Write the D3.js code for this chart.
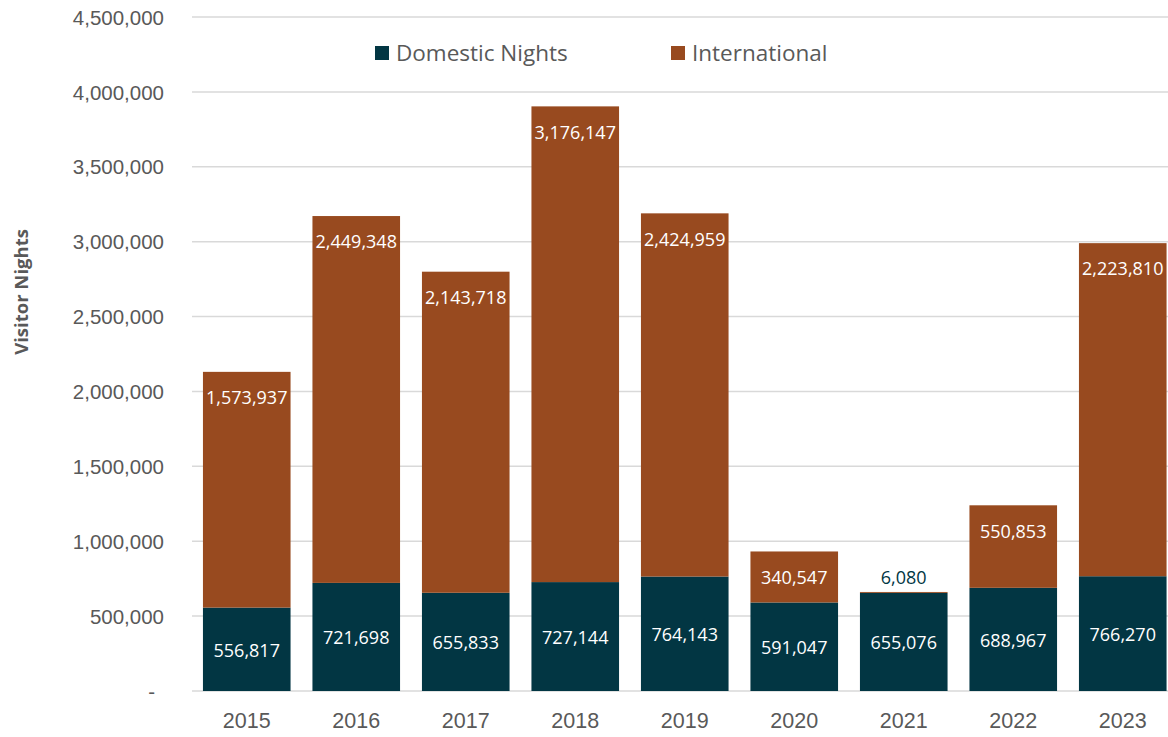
<!DOCTYPE html>
<html>
<head>
<meta charset="utf-8">
<script src="https://cdn.jsdelivr.net/npm/d3@7"></script>
<style>
  body { margin: 0; background: #fff; }
  svg { display: block; font-family: "Open Sans", "Noto Sans", sans-serif; }
</style>
</head>
<body>
<script>
let years = ['2015', '2016', '2017', '2018', '2019', '2020', '2021', '2022', '2023'];
let domestic = [556817, 721698, 655833, 727144, 764143, 591047, 655076, 688967, 766270];
let international = [1573937, 2449348, 2143718, 3176147, 2424959, 340547, 6080, 550853, 2223810];
let yTicks = [0, 500000, 1000000, 1500000, 2000000, 2500000, 3000000, 3500000, 4000000, 4500000];
let seriesNames = ['Domestic Nights', 'International'];
let colors = ['#023643', '#984a1f'];

let width = 1168;
let height = 737;
let textColor = '#595959';

let svg = d3.select('body')
            .append('svg')
            .attr('width', width)
            .attr('height', height)

let xScale = d3.scaleBand()
                .domain(years)
                .range([192, 1177.5])
                .paddingInner(0.2)
                .paddingOuter(0.1)

let yScale = d3.scaleLinear()
                .domain([0, 4500000])
                .range([691, 17])

// gridlines
svg.append('g')
    .selectAll('line')
    .data(yTicks)
    .enter()
    .append('line')
    .attr('x1', 192)
    .attr('x2', width)
    .attr('y1', d => yScale(d))
    .attr('y2', d => yScale(d))
    .attr('stroke', '#d9d9d9')
    .attr('stroke-width', 1.5)

// y axis labels
let fmt = d3.format(',');
let yAxis = d3.axisLeft(yScale)
                .tickValues(yTicks)
                .tickSize(0)
                .tickPadding(0)
                .tickFormat(d => d === 0 ? '-' : fmt(d));
let yg = svg.append('g')
    .attr('transform', 'translate(164,0)')
    .call(yAxis)
yg.select('.domain').remove();
yg.selectAll('text')
    .attr('fill', textColor)
    .style('font-size', '20.5px')
    .attr('dy', '0.35em')
yg.selectAll('text').filter(d => d === 0).attr('dx', -9)

// x axis labels
let xAxis = d3.axisBottom(xScale).tickSize(0).tickPadding(0);
let xg = svg.append('g')
    .attr('transform', 'translate(0,720)')
    .call(xAxis)
xg.select('.domain').remove();
xg.selectAll('text')
    .attr('fill', textColor)
    .style('font-size', '21.5px')
    .attr('dy', '0.35em')

// stacked bars
let rows = years.map((y, i) => ({ year: y, dom: domestic[i], intl: international[i] }));

svg.selectAll('.dom')
    .data(rows)
    .enter()
    .append('rect')
    .attr('class', 'dom')
    .attr('x', d => xScale(d.year))
    .attr('width', xScale.bandwidth())
    .attr('y', d => yScale(d.dom))
    .attr('height', d => yScale(0) - yScale(d.dom))
    .attr('fill', colors[0])

svg.selectAll('.intl')
    .data(rows)
    .enter()
    .append('rect')
    .attr('class', 'intl')
    .attr('x', d => xScale(d.year))
    .attr('width', xScale.bandwidth())
    .attr('y', d => yScale(d.dom + d.intl))
    .attr('height', d => yScale(d.dom) - yScale(d.dom + d.intl))
    .attr('fill', colors[1])

// data labels
svg.selectAll('.domLabel')
    .data(rows)
    .enter()
    .append('text')
    .attr('x', d => xScale(d.year) + xScale.bandwidth() / 2)
    .attr('y', d => (yScale(0) + yScale(d.dom)) / 2 + 1)
    .attr('dy', '0.35em')
    .attr('text-anchor', 'middle')
    .attr('fill', '#fff')
    .style('font-size', '18px')
    .text(d => fmt(d.dom))

svg.selectAll('.intlLabel')
    .data(rows)
    .enter()
    .append('text')
    .attr('x', d => xScale(d.year) + xScale.bandwidth() / 2)
    .attr('y', d => {
        let top = yScale(d.dom + d.intl);
        let h = yScale(d.dom) - top;
        return h < 30 ? top - 14 : top + 26;
    })
    .attr('dy', '0.35em')
    .attr('text-anchor', 'middle')
    .attr('fill', d => (yScale(d.dom) - yScale(d.dom + d.intl)) < 30 ? colors[0] : '#fff')
    .style('font-size', '18px')
    .text(d => fmt(d.intl))

// y axis title
svg.append('text')
    .attr('transform', 'translate(28,292) rotate(-90)')
    .attr('text-anchor', 'middle')
    .attr('fill', textColor)
    .style('font-size', '18.5px')
    .style('font-weight', 'bold')
    .text('Visitor Nights')

// legend
let legendX = [375, 671];
let legend = svg.selectAll('.legend')
    .data(seriesNames)
    .enter()
    .append('g')
    .attr('transform', (d, i) => 'translate(' + legendX[i] + ',46)')
legend.append('rect')
    .attr('width', 14)
    .attr('height', 14)
    .attr('fill', (d, i) => colors[i])
legend.append('text')
    .attr('x', 21)
    .attr('y', 7)
    .attr('dy', '0.35em')
    .attr('fill', textColor)
    .style('font-size', '22.5px')
    .text(d => d)
</script>
</body>
</html>
